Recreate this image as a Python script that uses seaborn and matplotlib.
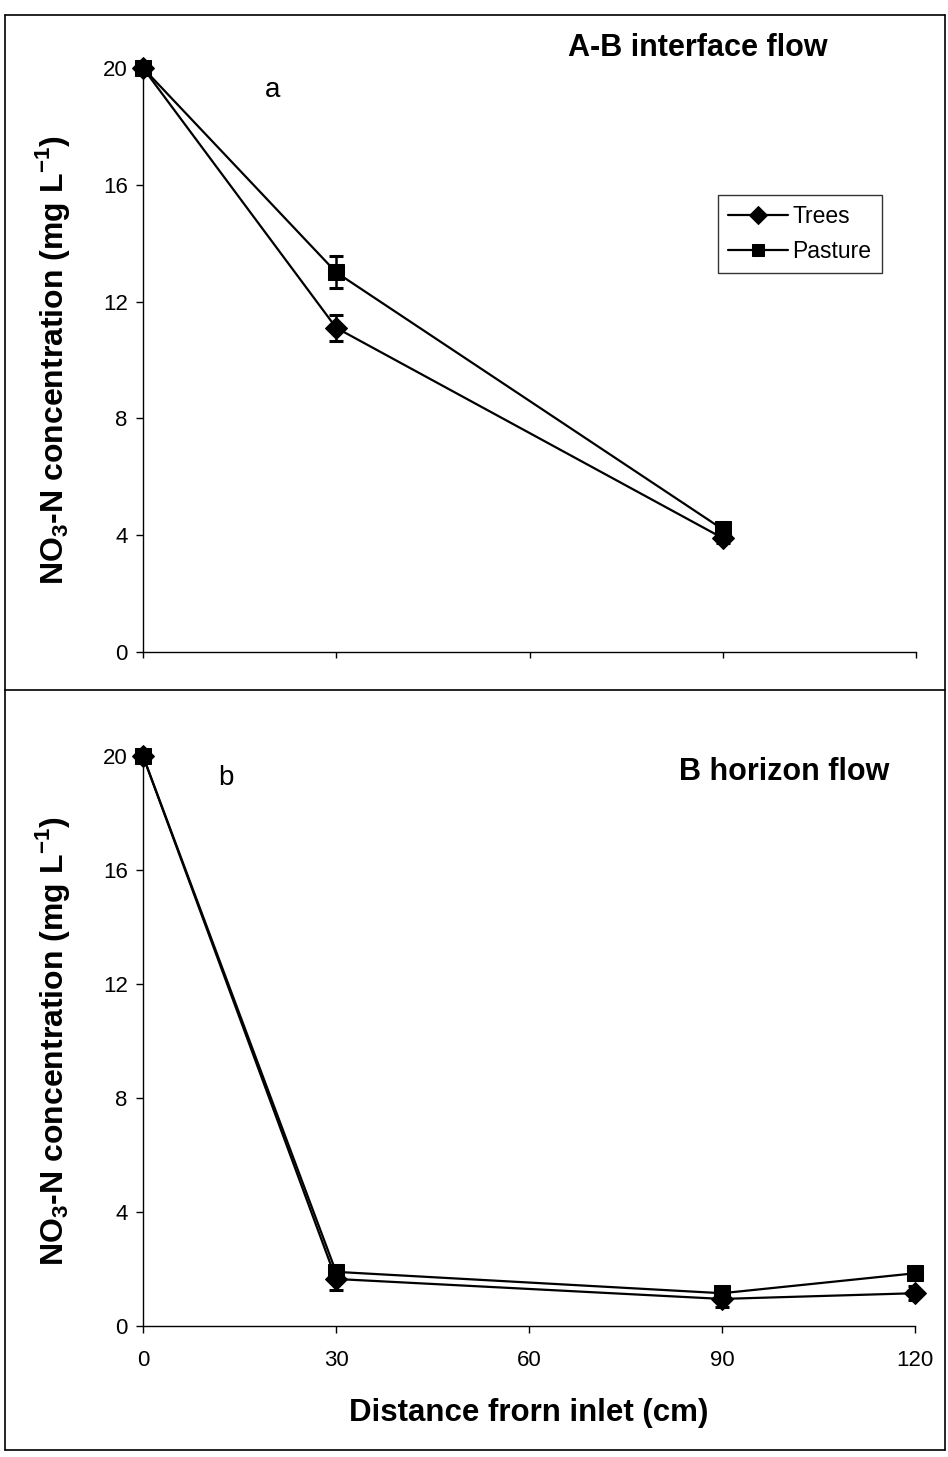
import numpy as np
import pandas as pd
import matplotlib
matplotlib.use("Agg")
import matplotlib.pyplot as plt
import seaborn as sns
from matplotlib.lines import Line2D

# ---- data ----
series = ["Trees", "Pasture"]
x_a = [0, 30, 90]
trees_a = [20.0, 11.1, 3.9]
trees_a_err = [0.0, 0.45, 0.15]
pasture_a = [20.0, 13.0, 4.2]
pasture_a_err = [0.0, 0.55, 0.12]

x_b = [0, 30, 90, 120]
trees_b = [20.0, 1.65, 0.95, 1.15]
trees_b_err = [0.0, 0.4, 0.3, 0.25]
pasture_b = [20.0, 1.9, 1.15, 1.85]
pasture_b_err = [0.0, 0.12, 0.1, 0.1]

y_ticks = [0, 4, 8, 12, 16, 20]
x_ticks = [0, 30, 60, 90, 120]

sns.set_theme(style="white")
plt.rcParams['font.family'] = ['Liberation Sans', 'DejaVu Sans']
plt.rcParams['text.color'] = 'black'
plt.rcParams['axes.labelcolor'] = 'black'
plt.rcParams['mathtext.fontset'] = 'custom'
plt.rcParams['mathtext.rm'] = 'Liberation Sans'
plt.rcParams['mathtext.bf'] = 'Liberation Sans:bold'

fig = plt.figure(figsize=(9.48, 14.57), dpi=100)
W, H = 948, 1457

def frac_axes(l, t, r, b):
    return [l / W, 1 - b / H, (r - l) / W, (b - t) / H]

ax_a = fig.add_axes(frac_axes(143, 68, 916, 652))
ax_b = fig.add_axes(frac_axes(143, 756, 915, 1326))

markers = {"Trees": "D", "Pasture": "s"}

def draw(ax, x, tv, te, pv, pe, legend):
    df = pd.DataFrame({
        "x": list(x) + list(x),
        "y": list(tv) + list(pv),
        "series": ["Trees"] * len(x) + ["Pasture"] * len(x),
    })
    for s, vals, errs in (("Trees", tv, te), ("Pasture", pv, pe)):
        ax.errorbar(x, vals, yerr=errs, fmt="none", ecolor="black",
                    elinewidth=1.8, capsize=5, capthick=2.2, zorder=2)
    sns.lineplot(data=df, x="x", y="y", hue="series", style="series",
                 palette={"Trees": "black", "Pasture": "black"},
                 markers=markers, dashes=False, linewidth=1.6,
                 markersize=11, markeredgecolor="black", ax=ax,
                 legend=legend, sort=False, zorder=3, clip_on=False)
    ax.set_xlim(0, 120)
    ax.set_ylim(0, 20)
    ax.set_yticks(y_ticks)
    ax.set_xticks(x_ticks)
    for sp in ("top", "right"):
        ax.spines[sp].set_visible(False)
    for sp in ("left", "bottom"):
        ax.spines[sp].set_color("black")
        ax.spines[sp].set_linewidth(1.0)
    ax.tick_params(axis="both", direction="out", length=5, width=1,
                   color="black", labelsize=16, labelcolor="black", pad=6,
                   bottom=True, left=True)
    ax.set_ylabel(r"NO$_\mathbf{3}$-N concentration (mg L$^\mathbf{-1}$)",
                  fontsize=23, fontweight="bold", labelpad=22)
    ax.set_xlabel("")

draw(ax_a, x_a, trees_a, trees_a_err, pasture_a, pasture_a_err, True)
draw(ax_b, x_b, trees_b, trees_b_err, pasture_b, pasture_b_err, False)

ax_a.set_xticklabels([])
ax_a.tick_params(axis="x", length=4)
ax_b.set_xlabel("Distance frorn inlet (cm)", fontsize=22.5, fontweight="bold",
                labelpad=20)
ax_b.tick_params(axis="x", pad=12)

# legend
h, l = ax_a.get_legend_handles_labels()
for hh in h:
    hh.set_color("black")
    hh.set_markeredgecolor("black")
    hh.set_markerfacecolor("black")
    hh.set_markersize(9)
leg = ax_a.legend(h, l, loc="upper left",
                  bbox_to_anchor=((718 - 143) / 773, (652 - 195) / 584),
                  bbox_transform=ax_a.transAxes,
                  frameon=True, fancybox=False, edgecolor="black",
                  fontsize=16.5, handlelength=2.6, handletextpad=0.2,
                  borderpad=0.45, labelspacing=0.5, borderaxespad=0)
leg.get_frame().set_linewidth(1.0)

# titles and panel letters
fig.text(698 / W, 1 - 48 / H, "A-B interface flow", fontsize=22, fontweight="bold",
         ha="center", va="center")
fig.text(273 / W, 1 - 90 / H, "a", fontsize=20, ha="center", va="center")
fig.text(784 / W, 1 - 772 / H, "B horizon flow", fontsize=22, fontweight="bold",
         ha="center", va="center")
fig.text(226 / W, 1 - 778 / H, "b", fontsize=20, ha="center", va="center")

# outer frame and divider
def fline(x0, y0, x1, y1):
    fig.add_artist(Line2D([x0 / W, x1 / W], [1 - y0 / H, 1 - y1 / H],
                          color="black", linewidth=1.2))

fline(5, 15, 945, 15)
fline(5, 15, 5, 1450)
fline(945, 15, 945, 1450)
fline(5, 690, 945, 690)
fline(5, 1450, 945, 1450)

fig.savefig("out.png", dpi=100, facecolor="white")
